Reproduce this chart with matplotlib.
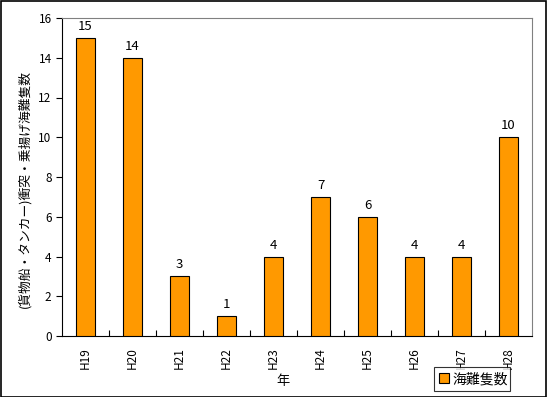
import matplotlib
matplotlib.use("Agg")
import matplotlib.pyplot as plt
import numpy as np
from matplotlib.patches import Rectangle

plt.rcParams['font.family'] = ['Noto Sans CJK JP', 'DejaVu Sans']

categories = ["H19", "H20", "H21", "H22", "H23", "H24", "H25", "H26", "H27", "H28"]
values = [15, 14, 3, 1, 4, 7, 6, 4, 4, 10]
series_name = "海難隻数"
ylabel = "(貨物船・タンカー)衝突・乗揚げ海難隻数"
xlabel = "年"

W, H = 547, 397
fig = plt.figure(figsize=(W/100, H/100), dpi=100)
fig.patches.append(Rectangle((0.5/W, 0.5/H), 1-1.5/W, 1-1.5/H, transform=fig.transFigure,
                             fill=False, edgecolor='black', linewidth=1.2))

left, right, top, bottom = 62, 532, 18, 336
ax = fig.add_axes([left/W, 1-bottom/H, (right-left)/W, (bottom-top)/H])

x = np.arange(len(categories))
bars = ax.bar(x, values, width=0.4, color='#FF9900', edgecolor='black', linewidth=0.8,
              label=series_name, zorder=3)
for xi, v in zip(x, values):
    ax.text(xi, v + 0.25, str(v), ha='center', va='bottom', fontsize=9.5)

ax.set_xlim(-0.5, len(categories)-0.5)
ax.set_ylim(0, 16)
ax.set_yticks(range(0, 17, 2))
ax.tick_params(axis='y', direction='out', length=4, labelsize=8.5, width=0.8)
ax.set_xticks(x)
ax.set_xticklabels(categories, rotation=90, fontsize=8.5)
ax.tick_params(axis='x', length=0, pad=8)
ax.set_xticks(np.arange(0.5, len(categories)-0.5, 1), minor=True)
ax.tick_params(axis='x', which='minor', direction='in', length=4, width=0.8)

for s in ['top', 'right']:
    ax.spines[s].set_color('#808080')
for s in ['left', 'bottom']:
    ax.spines[s].set_color('black')

fig.text(25/W, 1-189/H, ylabel, rotation=90, ha='center', va='center', fontsize=9.2)
fig.text(283/W, 1-381/H, xlabel, ha='center', va='center', fontsize=9.5)

leg = fig.legend(handles=[bars], labels=[series_name], loc='lower left',
                 bbox_to_anchor=(434/W, 1-391/H, (510-434)/W, (391-362)/H),
                 mode='expand', fontsize=10, frameon=True, fancybox=False,
                 edgecolor='black', handlelength=0.7, handleheight=0.7,
                 handletextpad=0.3, borderaxespad=0, borderpad=0.35)
leg.get_frame().set_linewidth(0.8)

fig.savefig("out.png", dpi=100)
